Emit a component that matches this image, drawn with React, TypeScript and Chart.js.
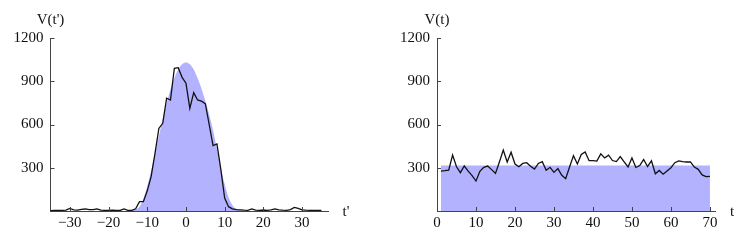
import React, { useEffect, useRef } from "react";
import { Chart, registerables } from "chart.js";

Chart.register(...registerables);

// ---------- data ----------
const leftStartT = -35;
const leftObserved = [
  3, 4, 5, 5, 6, 18, 8, 6, 12, 14, // -35..-26
  9, 10, 15, 6, 5, 5, 6, 5, 4, 14, // -25..-16
  5, 4, 15, 65, 65, 140, 238, 400, 573, 608, // -15..-6
  782, 770, 990, 994, 927, 886, 712, 821, 770, 762, // -5..4
  745, 600, 453, 465, 290, 90, 30, 15, 10, 8, // 5..14
  6, 5, 14, 6, 5, 7, 5, 8, 14, 8, // 15..24
  6, 5, 10, 25, 18, 8, 6, 5, 5, 4, // 25..34
  4, // 35
];
const leftModelStartT = -16;
const leftModel = [
  0, 0, 3, 12, 30, 85, 172, 279, 398, 519, // -16..-7
  638, 748, 844, 923, 982, 1018, 1030, 1018, 982, 923, // -6..3
  850, 765, 670, 560, 430, 300, 185, 95, 40, 15, // 4..13
  5, 0, 0, // 14..16
];

const rightStartT = 1;
const rightObserved = [
  277, 280, 284, 388, 307, 266, 312, 277, 245, 208, // 1..10
  275, 303, 312, 287, 261, 340, 423, 340, 408, 326, // 11..20
  307, 330, 335, 310, 291, 330, 342, 282, 303, 268, // 21..30
  294, 248, 224, 305, 384, 326, 392, 410, 349, 350, // 31..40
  346, 396, 368, 387, 350, 343, 378, 340, 306, 368, // 41..50
  302, 315, 357, 308, 348, 258, 281, 255, 278, 300, // 51..60
  335, 347, 342, 340, 341, 305, 289, 250, 238, 240, // 61..70
];
const rightModelT = [1, 70];
const rightModel = [315, 315];

const yTicks = [300, 600, 900, 1200];
const leftXTicks = [-30, -20, -10, 0, 10, 20, 30];
const rightXTicks = [0, 10, 20, 30, 40, 50, 60, 70];

// ---------- styling ----------
const FONT = "'Liberation Serif', 'Times New Roman', serif";
const FILL = "rgb(178,178,255)";
const AXIS = "#444";
const TEXT = "#111";

type PanelProps = {
  left: number;
  width: number;
  observed: { x: number; y: number }[];
  model: { x: number; y: number }[];
  tension: number;
  xMin: number;
  xMax: number;
  xTicks: number[];
  yAxisWidth: number;
  padRight: number;
  yLabel: string;
  xLabel: string;
  xLabelX: number;
};

function fmt(v: number) {
  return v < 0 ? "\u2212" + Math.abs(v) : String(v);
}

function Panel(p: PanelProps) {
  const ref = useRef<HTMLCanvasElement | null>(null);
  useEffect(() => {
    if (!ref.current) return;
    const decor = {
      id: "decor",
      afterDraw(chart: any) {
        const ctx = chart.ctx;
        const xs = chart.scales.x;
        const ys = chart.scales.y;
        const area = chart.chartArea;
        ctx.save();
        ctx.strokeStyle = AXIS;
        ctx.lineWidth = 1;
        ctx.beginPath();
        for (const v of p.xTicks) {
          const px = Math.round(xs.getPixelForValue(v)) + 0.5;
          ctx.moveTo(px, area.bottom);
          ctx.lineTo(px, area.bottom - 4);
        }
        for (const v of yTicks) {
          const py = Math.round(ys.getPixelForValue(v)) + 0.5;
          ctx.moveTo(area.left, py);
          ctx.lineTo(area.left + 4, py);
        }
        ctx.stroke();
        ctx.fillStyle = TEXT;
        ctx.font = "15px " + FONT;
        ctx.textBaseline = "middle";
        ctx.textAlign = "center";
        ctx.fillText(p.yLabel, area.left, 20);
        ctx.fillText(p.xLabel, p.xLabelX, 212);
        ctx.restore();
      },
    };
    const chart = new Chart(ref.current, {
      type: "line",
      data: {
        datasets: [
          {
            data: p.model,
            order: 2,
            borderWidth: 0,
            borderColor: "rgba(0,0,0,0)",
            backgroundColor: FILL,
            fill: "origin",
            pointRadius: 0,
            tension: p.tension,
            cubicInterpolationMode: p.tension > 0 ? "monotone" : "default",
          } as any,
          {
            data: p.observed,
            order: 1,
            borderWidth: 1.3,
            borderColor: "#111",
            backgroundColor: "rgba(0,0,0,0)",
            fill: false,
            pointRadius: 0,
            tension: 0,
          },
        ],
      },
      options: {
        responsive: false,
        animation: false,
        devicePixelRatio: 1,
        layout: { padding: { left: 0, top: 38, bottom: 10, right: p.padRight } },
        plugins: { legend: { display: false }, tooltip: { enabled: false } },
        scales: {
          x: {
            type: "linear",
            min: p.xMin,
            max: p.xMax,
            afterBuildTicks: (s: any) => {
              s.ticks = p.xTicks.map((v) => ({ value: v }));
            },
            afterFit: (s: any) => {
              s.height = 24;
            },
            ticks: {
              callback: (v: any) => fmt(Number(v)),
              font: { family: FONT, size: 15 },
              color: TEXT,
              padding: 3,
              maxRotation: 0,
              autoSkip: false,
            },
            grid: { display: true, drawOnChartArea: false, drawTicks: false },
            border: { display: true, color: AXIS, width: 1 },
          },
          y: {
            type: "linear",
            min: 0,
            max: 1200,
            afterBuildTicks: (s: any) => {
              s.ticks = yTicks.map((v) => ({ value: v }));
            },
            afterFit: (s: any) => {
              s.width = p.yAxisWidth;
            },
            ticks: {
              callback: (v: any) => String(v),
              font: { family: FONT, size: 15 },
              color: TEXT,
              padding: 7,
              autoSkip: false,
            },
            grid: { display: true, drawOnChartArea: false, drawTicks: false },
            border: { display: true, color: AXIS, width: 1 },
          },
        },
      },
      plugins: [decor],
    });
    return () => chart.destroy();
  }, []);
  return (
    <canvas
      ref={ref}
      width={p.width}
      height={245}
      style={{ position: "absolute", left: p.left, top: 0, width: p.width, height: 245 }}
    />
  );
}

export default function App() {
  const leftObs = leftObserved.map((y, i) => ({ x: leftStartT + i, y }));
  const leftMod = leftModel.map((y, i) => ({ x: leftModelStartT + i, y }));
  const rightObs = rightObserved.map((y, i) => ({ x: rightStartT + i, y }));
  const rightMod = rightModel.map((y, i) => ({ x: rightModelT[i], y }));
  return (
    <div style={{ position: "fixed", left: 0, top: 0, width: 749, height: 245, background: "#fff" }}>
      <Panel
        left={0}
        width={375}
        observed={leftObs}
        model={leftMod}
        tension={0.4}
        xMin={-35}
        xMax={36.7}
        xTicks={leftXTicks}
        yAxisWidth={50.5}
        padRight={47}
        yLabel="V(t')"
        xLabel="t'"
        xLabelX={346}
      />
      <Panel
        left={375}
        width={374}
        observed={rightObs}
        model={rightMod}
        tension={0}
        xMin={0}
        xMax={71.3}
        xTicks={rightXTicks}
        yAxisWidth={62}
        padRight={34}
        yLabel="V(t)"
        xLabel="t"
        xLabelX={357}
      />
    </div>
  );
}
